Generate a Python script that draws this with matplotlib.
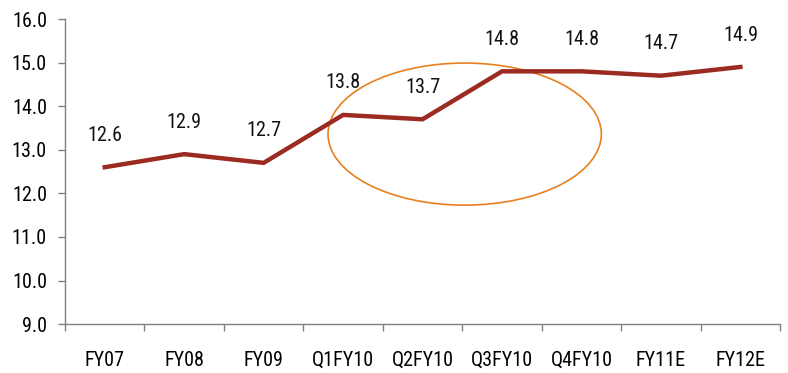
import matplotlib
matplotlib.use("Agg")
import matplotlib.pyplot as plt
from matplotlib.patches import Ellipse
from matplotlib.ticker import FixedLocator, NullFormatter
from matplotlib import font_manager

names = {f.name for f in font_manager.fontManager.ttflist}
narrow = [n for n in ("Liberation Sans Narrow", "Arial Narrow", "Roboto Condensed") if n in names]
plt.rcParams['font.family'] = narrow + ['DejaVu Sans']
plt.rcParams['font.stretch'] = 'condensed'

categories = ["FY07", "FY08", "FY09", "Q1FY10", "Q2FY10", "Q3FY10", "Q4FY10", "FY11E", "FY12E"]
values = [12.6, 12.9, 12.7, 13.8, 13.7, 14.8, 14.8, 14.7, 14.9]
y_ticks = [9.0, 10.0, 11.0, 12.0, 13.0, 14.0, 15.0, 16.0]

fig = plt.figure(figsize=(7.88, 3.73), dpi=100)
ax = fig.add_axes([0.0825, 0.131, 0.9075, 0.818])

x = list(range(len(categories)))
ax.plot(x, values, color="#9B2A20", linewidth=3.2, solid_joinstyle="miter")

for xi, v in zip(x, values):
    ax.annotate(f"{v:.1f}", (xi, v), xytext=(0, 23), textcoords="offset points",
                ha="center", va="center", fontsize=14.5, color="#111111")

# highlight of the quarterly ramp-up
ax.add_patch(Ellipse((4.53, 13.36), 3.44, 3.26, fill=False,
                     edgecolor="#E8801E", linewidth=1.2))

ax.set_xlim(-0.5, len(categories) - 0.5)
ax.set_ylim(9.0, 16.0)

ax.set_xticks(x)
ax.set_xticklabels(categories, fontsize=14.5)
ax.xaxis.set_minor_locator(FixedLocator([i - 0.5 for i in range(len(categories) + 1)]))
ax.xaxis.set_minor_formatter(NullFormatter())
ax.tick_params(axis="x", which="major", length=0, pad=19)
ax.tick_params(axis="x", which="minor", length=5, width=1, color="#808080", direction="out")

ax.set_yticks(y_ticks)
ax.set_yticklabels([f"{t:.1f}" for t in y_ticks], fontsize=14.5)
ax.tick_params(axis="y", length=5, width=1, color="#808080", direction="out", pad=8)

for s in ("top", "right"):
    ax.spines[s].set_visible(False)
for s in ("left", "bottom"):
    ax.spines[s].set_color("#808080")
    ax.spines[s].set_linewidth(1)

fig.savefig("out.png", dpi=100)
